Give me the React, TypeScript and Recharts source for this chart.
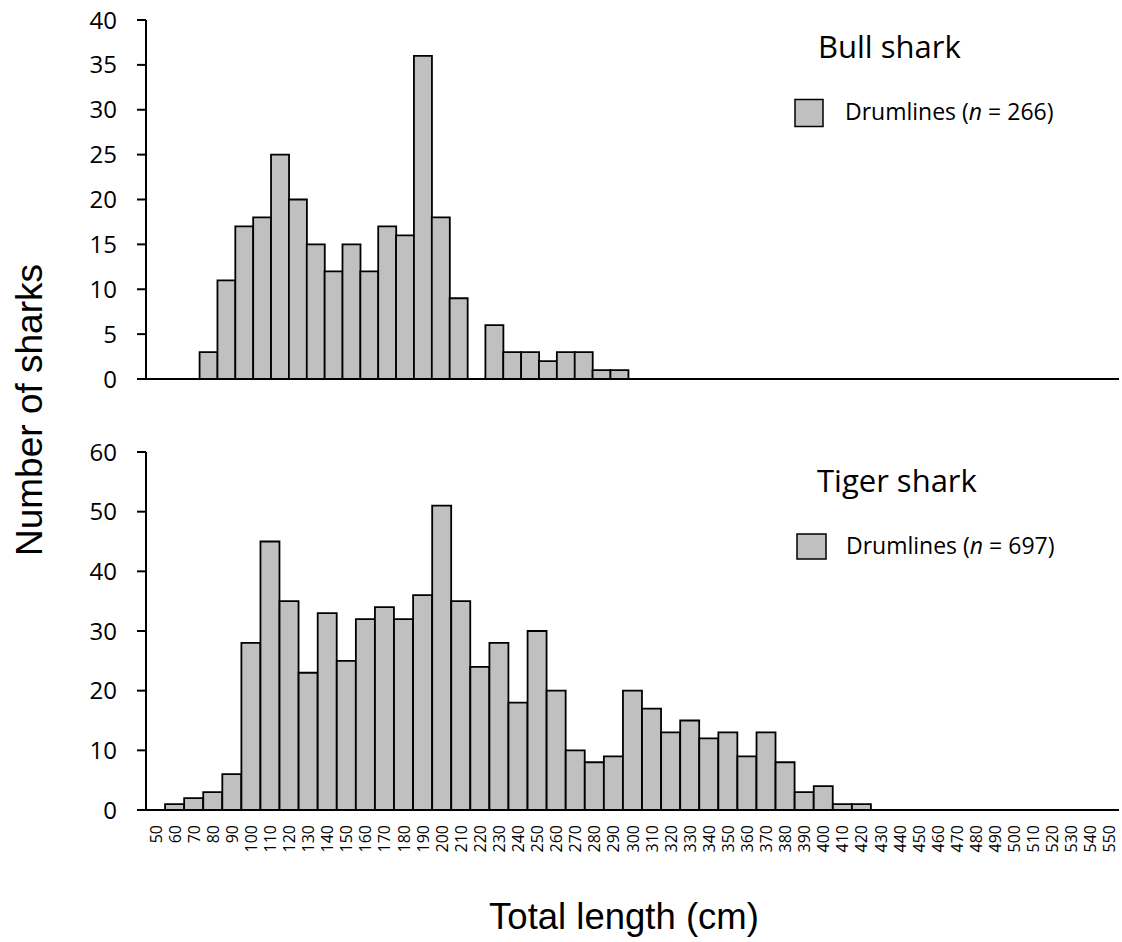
import React from 'react';
import { BarChart, Bar, XAxis, YAxis, Legend } from 'recharts';

// ---- data ----
const lengthBins = [
  '50', '60', '70', '80', '90', '100', '110', '120', '130', '140',
  '150', '160', '170', '180', '190', '200', '210', '220', '230', '240',
  '250', '260', '270', '280', '290', '300', '310', '320', '330', '340',
  '350', '360', '370', '380', '390', '400', '410', '420', '430', '440',
  '450', '460', '470', '480', '490', '500', '510', '520', '530', '540', '550',
];

const bullCounts = [
  0, 0, 0, 3, 11, 17, 18, 25, 20, 15,
  12, 15, 12, 17, 16, 36, 18, 9, 0, 6,
  3, 3, 2, 3, 3, 1, 1, 0, 0, 0,
  0, 0, 0, 0, 0, 0, 0, 0, 0, 0,
  0, 0, 0, 0, 0, 0, 0, 0, 0, 0, 0,
];

const tigerCounts = [
  0, 1, 2, 3, 6, 28, 45, 35, 23, 33,
  25, 32, 34, 32, 36, 51, 35, 24, 28, 18,
  30, 20, 10, 8, 9, 20, 17, 13, 15, 12,
  13, 9, 13, 8, 3, 4, 1, 1, 0, 0,
  0, 0, 0, 0, 0, 0, 0, 0, 0, 0, 0,
];

const bullTicks = [0, 5, 10, 15, 20, 25, 30, 35, 40];
const tigerTicks = [0, 10, 20, 30, 40, 50, 60];

const bullTitle = 'Bull shark';
const tigerTitle = 'Tiger shark';
const seriesName = 'Drumlines';
const bullN = 266;
const tigerN = 697;
const xTitle = 'Total length (cm)';
const yTitle = 'Number of sharks';

const bullData = lengthBins.map((bin, i) => ({ bin, count: bullCounts[i] }));
const tigerData = lengthBins.map((bin, i) => ({ bin, count: tigerCounts[i] }));

// ---- styles ----
const W = 1122;
const H = 942;
const TOP_H = 400;
const BOT_TOP = 430;
const BOT_H = 512;
const BAR_FILL = '#C0C0C0';
const FONT = "'Open Sans', 'Noto Sans', sans-serif";
const ARIAL = "'Liberation Sans', Arial, sans-serif";

const XTick = (props: any) => {
  const { x, y, payload } = props;
  const ty = y + 15;
  return (
    <text
      x={x}
      y={ty}
      transform={`rotate(-90 ${x} ${ty})`}
      textAnchor="end"
      dominantBaseline="central"
      fontFamily={FONT}
      fontSize={16}
      fill="#000"
    >
      {payload.value}
    </text>
  );
};

const makeLegend = (title: string, n: number, titleY: number, boxX: number, boxY: number, boxW: number, boxH: number, textX: number, textY: number, titleX: number, h: number) =>
  (props: any) => {
    const item = props.payload && props.payload[0];
    const color = item ? item.color : BAR_FILL;
    const name = item ? item.value : seriesName;
    return (
      <svg width={W} height={h} style={{ display: 'block' }}>
        <text x={titleX} y={titleY} fontFamily={FONT} fontSize={31} fill="#000">
          {title}
        </text>
        <rect x={boxX} y={boxY} width={boxW} height={boxH} fill={color} stroke="#000" strokeWidth={1.5} />
        <text x={textX} y={textY} fontFamily={FONT} fontSize={23} fill="#000">
          {name} (<tspan fontStyle="italic">n</tspan> = {n})
        </text>
      </svg>
    );
  };

const BullLegend = makeLegend(bullTitle, bullN, 58, 795, 99.5, 28, 27, 845, 120, 818, TOP_H);
const TigerLegend = makeLegend(tigerTitle, tigerN, 62, 797, 104, 29, 25, 846, 124, 817, BOT_H);

export default function App() {
  return (
    <div style={{ position: 'fixed', left: 0, top: 0, width: W, height: H, background: '#fff', overflow: 'hidden' }}>
      <div style={{ position: 'absolute', left: 0, top: 0 }}>
        <BarChart
          width={W}
          height={TOP_H}
          data={bullData}
          margin={{ top: 20, right: 3, bottom: 20, left: 0 }}
          barCategoryGap={0}
          barGap={0}
        >
          <XAxis
            dataKey="bin"
            height={1}
            tick={false}
            tickLine={false}
            axisLine={{ stroke: '#000', strokeWidth: 2 }}
            padding={{ left: 0, right: 62 }}
          />
          <YAxis
            width={146}
            domain={[0, 40]}
            ticks={bullTicks}
            interval={0}
            tickSize={9}
            tickMargin={20}
            axisLine={{ stroke: '#000', strokeWidth: 2 }}
            tickLine={{ stroke: '#000', strokeWidth: 2 }}
            tick={{ fill: '#000', fontSize: 24, fontFamily: FONT }}
          />
          <Legend
            layout="vertical"
            align="center"
            verticalAlign="middle"
            content={BullLegend}
            wrapperStyle={{ position: 'absolute', left: 0, top: 0, width: W, height: TOP_H, pointerEvents: 'none' }}
          />
          <Bar
            dataKey="count"
            name={seriesName}
            fill={BAR_FILL}
            stroke="#000"
            strokeWidth={1.8}
            isAnimationActive={false}
          />
        </BarChart>
      </div>
      <div style={{ position: 'absolute', left: 0, top: BOT_TOP }}>
        <BarChart
          width={W}
          height={BOT_H}
          data={tigerData}
          margin={{ top: 22, right: 3, bottom: 72, left: 0 }}
          barCategoryGap={0}
          barGap={0}
        >
          <XAxis
            dataKey="bin"
            height={60}
            interval={0}
            tickSize={0}
            tickMargin={0}
            tickLine={false}
            tick={<XTick />}
            axisLine={{ stroke: '#000', strokeWidth: 2 }}
          />
          <YAxis
            width={146}
            domain={[0, 60]}
            ticks={tigerTicks}
            interval={0}
            tickSize={9}
            tickMargin={20}
            axisLine={{ stroke: '#000', strokeWidth: 2 }}
            tickLine={{ stroke: '#000', strokeWidth: 2 }}
            tick={{ fill: '#000', fontSize: 24, fontFamily: FONT }}
          />
          <Legend
            layout="vertical"
            align="center"
            verticalAlign="middle"
            content={TigerLegend}
            wrapperStyle={{ position: 'absolute', left: 0, top: 0, width: W, height: BOT_H, pointerEvents: 'none' }}
          />
          <Bar
            dataKey="count"
            name={seriesName}
            fill={BAR_FILL}
            stroke="#000"
            strokeWidth={1.8}
            isAnimationActive={false}
          />
        </BarChart>
      </div>
      <svg width={W} height={H} style={{ position: 'absolute', left: 0, top: 0, pointerEvents: 'none' }}>
        <text x={42} y={410} transform="rotate(-90 42 410)" textAnchor="middle" fontFamily={ARIAL} fontSize={37} fill="#000">
          {yTitle}
        </text>
        <text x={624} y={929} textAnchor="middle" fontFamily={ARIAL} fontSize={36.5} fill="#000">
          {xTitle}
        </text>
      </svg>
    </div>
  );
}
